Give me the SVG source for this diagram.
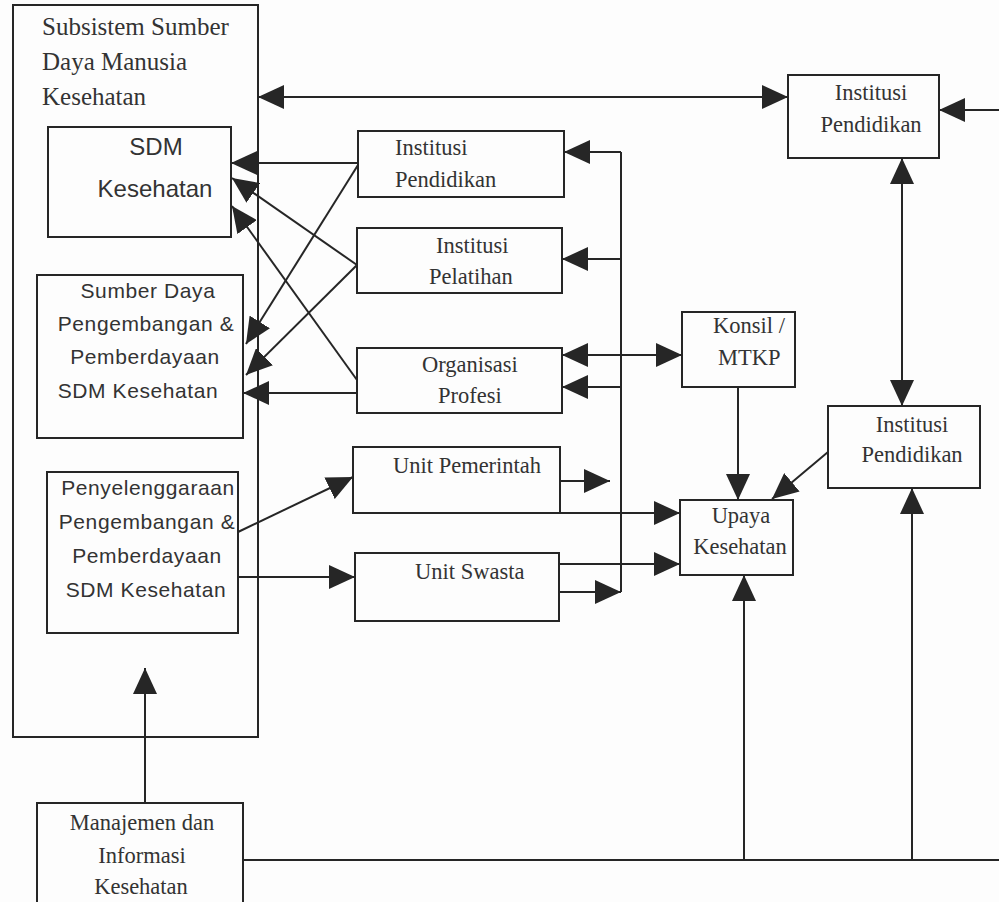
<svg xmlns="http://www.w3.org/2000/svg" width="999" height="902" viewBox="0 0 999 902">
<style>
.box{fill:none;stroke:#262626;stroke-width:2}
.ln{fill:none;stroke:#262626;stroke-width:2}
.a{marker-end:url(#ah)}
.b{marker-start:url(#ah);marker-end:url(#ah)}
.s{font-family:"Liberation Serif","Times New Roman",serif;font-size:22.5px;fill:#333}
.t{font-family:"Liberation Serif","Times New Roman",serif;font-size:25px;fill:#333}
.k{font-family:"Liberation Sans",Arial,sans-serif;font-size:21px;letter-spacing:0.6px;fill:#333}
.kb{font-family:"Liberation Sans",Arial,sans-serif;font-size:24px;fill:#333}
.m{text-anchor:middle}
</style>
<defs>
<marker id="ah" markerUnits="userSpaceOnUse" markerWidth="26" markerHeight="24" refX="26" refY="12" orient="auto-start-reverse">
<path d="M0,0 L26,12 L0,24 z" fill="#262626"/>
</marker>
</defs>
<rect x="0" y="0" width="999" height="902" fill="#fdfdfd"/>

<g id="subsistem">
<rect class="box" x="13" y="5" width="245" height="732"/>
<text class="t" x="42" y="35">Subsistem Sumber</text>
<text class="t" x="42" y="70">Daya Manusia</text>
<text class="t" x="42" y="105">Kesehatan</text>
</g>
<g id="sdm-kesehatan">
<rect class="box" x="48" y="127" width="183" height="110"/>
<text class="kb m" x="156" y="155">SDM</text>
<text class="kb m" x="155" y="197">Kesehatan</text>
</g>
<g id="sumber-daya">
<rect class="box" x="37" y="275" width="206" height="163"/>
<text class="k m" x="148" y="298">Sumber Daya</text>
<text class="k m" x="146" y="331">Pengembangan &amp;</text>
<text class="k m" x="145" y="364">Pemberdayaan</text>
<text class="k m" x="138" y="398">SDM Kesehatan</text>
</g>
<g id="penyelenggaraan">
<rect class="box" x="47" y="472" width="191" height="161"/>
<text class="k m" x="148" y="495">Penyelenggaraan</text>
<text class="k m" x="147" y="529">Pengembangan &amp;</text>
<text class="k m" x="147" y="563">Pemberdayaan</text>
<text class="k m" x="146" y="597">SDM Kesehatan</text>
</g>
<g id="manajemen">
<rect class="box" x="37" y="803" width="206" height="110"/>
<text class="s m" x="142" y="830">Manajemen dan</text>
<text class="s m" x="142" y="863">Informasi</text>
<text class="s m" x="141" y="894">Kesehatan</text>
</g>
<g id="institusi-pendidikan-1">
<rect class="box" x="358" y="131" width="206" height="66"/>
<text class="s" x="395" y="155">Institusi</text>
<text class="s" x="395" y="187">Pendidikan</text>
</g>
<g id="institusi-pelatihan">
<rect class="box" x="357" y="228" width="205" height="65"/>
<text class="s" x="436" y="253">Institusi</text>
<text class="s" x="429" y="284">Pelatihan</text>
</g>
<g id="organisasi-profesi">
<rect class="box" x="357" y="348" width="205" height="65"/>
<text class="s" x="422" y="372">Organisasi</text>
<text class="s" x="438" y="403">Profesi</text>
</g>
<g id="unit-pemerintah">
<rect class="box" x="353" y="447" width="207" height="66"/>
<text class="s" x="393" y="473">Unit Pemerintah</text>
</g>
<g id="unit-swasta">
<rect class="box" x="355" y="553" width="204" height="68"/>
<text class="s" x="415" y="579">Unit Swasta</text>
</g>
<g id="konsil">
<rect class="box" x="682" y="312" width="113" height="75"/>
<text class="s" x="713" y="333">Konsil /</text>
<text class="s" x="718" y="365">MTKP</text>
</g>
<g id="upaya-kesehatan">
<rect class="box" x="680" y="500" width="113" height="75"/>
<text class="s m" x="741" y="523">Upaya</text>
<text class="s m" x="740" y="554">Kesehatan</text>
</g>
<g id="institusi-pendidikan-2">
<rect class="box" x="788" y="75" width="151" height="83"/>
<text class="s m" x="871" y="100">Institusi</text>
<text class="s m" x="871" y="132">Pendidikan</text>
</g>
<g id="institusi-pendidikan-3">
<rect class="box" x="828" y="406" width="152" height="82"/>
<text class="s m" x="912" y="432">Institusi</text>
<text class="s m" x="912" y="462">Pendidikan</text>
</g>

<g id="connectors">
<path class="ln b" d="M258,97 H788"/>
<path class="ln a" d="M999,110 H939"/>
<path class="ln b" d="M902,158 V406"/>
<path class="ln a" d="M828,452 L772,499"/>
<path class="ln a" d="M738,387 V500"/>
<path class="ln" d="M243,860 H999"/>
<path class="ln a" d="M744,860 V575"/>
<path class="ln a" d="M912,860 V488"/>
<path class="ln a" d="M145,803 V668"/>
<path class="ln" d="M621,152 V592"/>
<path class="ln a" d="M621,152 H564"/>
<path class="ln a" d="M621,259 H562"/>
<path class="ln b" d="M562,355 H682"/>
<path class="ln a" d="M621,387 H562"/>
<path class="ln a" d="M559,592 H621"/>
<path class="ln a" d="M559,564 H680"/>
<path class="ln a" d="M560,513 H680"/>
<path class="ln a" d="M560,481 H610"/>
<path class="ln a" d="M238,532 L353,477"/>
<path class="ln a" d="M238,577 H355"/>
<path class="ln a" d="M358,163 H231"/>
<path class="ln a" d="M358,165 L246,344"/>
<path class="ln a" d="M357,265 L232,178"/>
<path class="ln a" d="M357,265 L246,375"/>
<path class="ln a" d="M357,380 L232,206"/>
<path class="ln a" d="M357,393 H243"/>
</g>
</svg>
